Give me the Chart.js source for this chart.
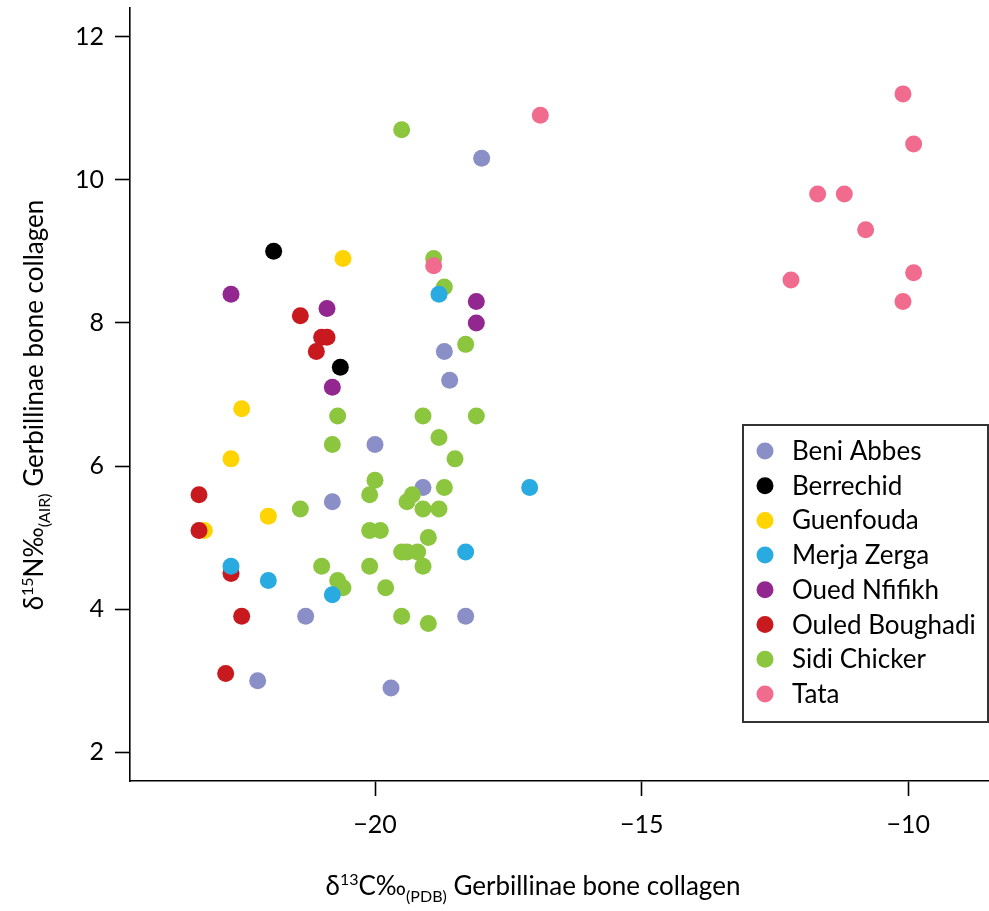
<!DOCTYPE html>
<html>
<head>
<meta charset="utf-8">
<script src="https://cdn.jsdelivr.net/npm/chart.js@4.4.1/dist/chart.umd.min.js"></script>
<style>
  html, body { margin: 0; padding: 0; background: #ffffff; }
  canvas { display: block; }
</style>
</head>
<body>
<canvas id="chart" width="989" height="911"></canvas>
<script>
// Sites, in legend order
const sites = ['Beni Abbes', 'Berrechid', 'Guenfouda', 'Merja Zerga', 'Oued Nfifikh', 'Ouled Boughadi', 'Sidi Chicker', 'Tata'];

// δ13C (‰, PDB) and δ15N (‰, AIR) per site
const beniAbbesC = [-18.0, -18.7, -18.6, -20.0, -19.1, -20.8, -21.3, -18.3, -22.2, -19.7];
const beniAbbesN = [10.3, 7.6, 7.2, 6.3, 5.7, 5.5, 3.9, 3.9, 3.0, 2.9];

const berrechidC = [-21.9, -20.65];
const berrechidN = [9.0, 7.38];

const guenfoudaC = [-20.6, -22.5, -22.7, -22.0, -23.2];
const guenfoudaN = [8.9, 6.8, 6.1, 5.3, 5.1];

const merjaZergaC = [-18.8, -17.1, -18.3, -22.7, -22.0, -20.8];
const merjaZergaN = [8.4, 5.7, 4.8, 4.6, 4.4, 4.2];

const ouedNfifikhC = [-22.7, -20.9, -20.8, -18.1, -18.1];
const ouedNfifikhN = [8.4, 8.2, 7.1, 8.3, 8.0];

const ouledBoughadiC = [-21.4, -21.0, -20.9, -21.1, -23.3, -23.3, -22.7, -22.5, -22.8];
const ouledBoughadiN = [8.1, 7.8, 7.8, 7.6, 5.6, 5.1, 4.5, 3.9, 3.1];

const sidiChickerC = [-19.5, -18.9, -18.7, -18.3, -20.7, -19.1, -18.1, -20.8, -18.8, -18.5, -20.0, -20.1, -18.7, -19.3, -19.4, -19.1,
                      -18.8, -21.4, -20.1, -19.9, -19.0, -19.5, -19.4, -19.2, -21.0, -20.1, -19.1, -20.7, -20.6, -19.8, -19.5, -19.0];
const sidiChickerN = [10.7, 8.9, 8.5, 7.7, 6.7, 6.7, 6.7, 6.3, 6.4, 6.1, 5.8, 5.6, 5.7, 5.6, 5.5, 5.4,
                      5.4, 5.4, 5.1, 5.1, 5.0, 4.8, 4.8, 4.8, 4.6, 4.6, 4.6, 4.4, 4.3, 4.3, 3.9, 3.8];

const tataC = [-16.9, -18.9, -10.1, -9.9, -11.7, -11.2, -10.8, -12.2, -9.9, -10.1];
const tataN = [10.9, 8.8, 11.2, 10.5, 9.8, 9.8, 9.3, 8.6, 8.7, 8.3];

// Axis tick values
const xTicks = [-20, -15, -10];
const yTicks = [2, 4, 6, 8, 10, 12];

// Styling
const siteColors = ['#8a8fc7', '#000000', '#ffd400', '#29abe2', '#92278f', '#c8191f', '#8cc63f', '#f06b8e'];
const drawOrder = [5, 7, 4, 0, 6, 2, 3, 1]; // lower value is painted on top
const FONT = 'Lato, "Open Sans", sans-serif';

const seriesC = [beniAbbesC, berrechidC, guenfoudaC, merjaZergaC, ouedNfifikhC, ouledBoughadiC, sidiChickerC, tataC];
const seriesN = [beniAbbesN, berrechidN, guenfoudaN, merjaZergaN, ouedNfifikhN, ouledBoughadiN, sidiChickerN, tataN];

const datasets = sites.map((name, i) => ({
  label: name,
  data: seriesC[i].map((c, k) => ({ x: c, y: seriesN[i][k] })),
  backgroundColor: siteColors[i],
  borderWidth: 0,
  pointRadius: 8.5,
  pointHoverRadius: 8.5,
  order: drawOrder[i]
}));

const minus = v => (v < 0 ? '\u2212' + Math.abs(v) : String(v));

// Text made of pieces (normal / superscript / subscript), laid out left to right on one baseline
function richWidth(ctx, parts) {
  let w = 0;
  for (const p of parts) { ctx.font = p.size + 'px ' + FONT; w += ctx.measureText(p.t).width; }
  return w;
}
function drawRich(ctx, parts, x, y) {
  for (const p of parts) {
    ctx.font = p.size + 'px ' + FONT;
    ctx.fillText(p.t, x, y + (p.dy || 0));
    x += ctx.measureText(p.t).width;
  }
}

const decorations = {
  id: 'decorations',
  afterDraw(chart, args, opts) {
    const ctx = chart.ctx;
    const area = chart.chartArea;
    ctx.save();
    ctx.fillStyle = '#000';
    ctx.textAlign = 'left';
    ctx.textBaseline = 'alphabetic';

    // x axis title
    const xParts = [
      { t: 'δ', size: opts.titleSize },
      { t: '13', size: opts.smallSize, dy: -opts.supShift },
      { t: 'C‰', size: opts.titleSize },
      { t: '(PDB)', size: opts.smallSize, dy: opts.subShift },
      { t: ' Gerbillinae bone collagen', size: opts.titleSize }
    ];
    const xw = richWidth(ctx, xParts);
    drawRich(ctx, xParts, opts.xTitleCenter - xw / 2, opts.xTitleBaseline);

    // y axis title (rotated)
    const yParts = [
      { t: 'δ', size: opts.titleSize },
      { t: '15', size: opts.smallSize, dy: -opts.supShift },
      { t: 'N‰', size: opts.titleSize },
      { t: '(AIR)', size: opts.smallSize, dy: opts.subShift },
      { t: ' Gerbillinae bone collagen', size: opts.titleSize }
    ];
    const yw = richWidth(ctx, yParts);
    ctx.save();
    ctx.translate(opts.yTitleBaseline, opts.yTitleCenter);
    ctx.rotate(-Math.PI / 2);
    drawRich(ctx, yParts, -yw / 2, 0);
    ctx.restore();

    // legend box
    const lg = opts.legend;
    const left = lg.left, top = lg.top;
    const right = area.right - 1, bottom = lg.bottom;
    ctx.strokeStyle = '#333';
    ctx.lineWidth = 2;
    ctx.strokeRect(left, top, right - left, bottom - top);
    chart.data.datasets.forEach((ds, i) => {
      const cy = lg.firstRow + i * lg.rowStep;
      ctx.beginPath();
      ctx.arc(left + lg.markerOffset, cy, 8.5, 0, Math.PI * 2);
      ctx.fillStyle = ds.backgroundColor;
      ctx.fill();
      ctx.fillStyle = '#000';
      ctx.font = lg.size + 'px ' + FONT;
      ctx.fillText(ds.label, left + lg.textOffset, cy + lg.baselineShift);
    });
    ctx.restore();
  }
};

new Chart(document.getElementById('chart'), {
  type: 'scatter',
  data: { datasets },
  options: {
    responsive: false,
    animation: false,
    events: [],
    layout: { autoPadding: false, padding: { top: 8, left: 0, right: 0, bottom: 0 } },
    plugins: {
      legend: { display: false },
      tooltip: { enabled: false },
      decorations: {
        titleSize: 26, smallSize: 16, supShift: 10, subShift: 7,
        xTitleCenter: 533, xTitleBaseline: 895,
        yTitleCenter: 405, yTitleBaseline: 43,
        legend: { left: 743, top: 425, bottom: 722, firstRow: 451, rowStep: 34.7,
                  markerOffset: 22, textOffset: 49, size: 26, baselineShift: 9 }
      }
    },
    scales: {
      x: {
        type: 'linear',
        min: -24.594, max: -8.487,
        border: { display: true, color: '#000', width: 1.6 },
        grid: { display: true, drawOnChartArea: false, drawTicks: true, tickLength: 15, tickWidth: 1.6, tickColor: '#000' },
        ticks: { font: { family: FONT, size: 25 }, color: '#000', padding: 14, maxRotation: 0, autoSkip: false, callback: minus },
        afterBuildTicks: s => { s.ticks = xTicks.map(v => ({ value: v })); },
        afterFit: s => { s.height = 130; s.paddingLeft = 0; s.paddingRight = 0; }
      },
      y: {
        type: 'linear',
        min: 1.599, max: 12.40,
        border: { display: true, color: '#000', width: 1.6 },
        grid: { display: true, drawOnChartArea: false, drawTicks: true, tickLength: 15, tickWidth: 1.6, tickColor: '#000' },
        ticks: { font: { family: FONT, size: 25 }, color: '#000', padding: 11, autoSkip: false, callback: minus },
        afterBuildTicks: s => { s.ticks = yTicks.map(v => ({ value: v })); },
        afterFit: s => { s.width = 130; s.paddingTop = 0; s.paddingBottom = 0; }
      }
    }
  },
  plugins: [decorations]
});
</script>
</body>
</html>
